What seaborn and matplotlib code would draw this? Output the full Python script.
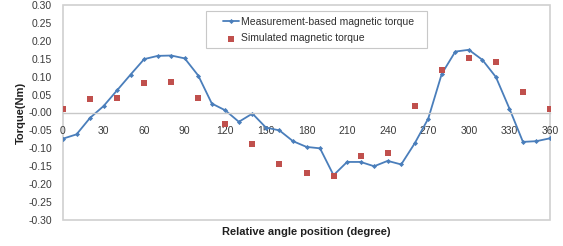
import numpy as np
import pandas as pd
import seaborn as sns
import matplotlib.pyplot as plt
from matplotlib.patches import Rectangle

# measured torque, every 10 degrees
meas_angle = list(range(0, 361, 10))
meas_torque = [-0.073, -0.061, -0.015, 0.018, 0.062, 0.106, 0.149, 0.158, 0.159, 0.151,
               0.103, 0.025, 0.006, -0.026, -0.003, -0.042, -0.050, -0.080, -0.096, -0.100,
               -0.175, -0.138, -0.138, -0.150, -0.135, -0.145, -0.086, -0.017, 0.108, 0.170,
               0.175, 0.147, 0.099, 0.011, -0.082, -0.080, -0.072]

# simulated torque, every 20 degrees
sim_angle = list(range(0, 361, 20))
sim_torque = [0.010, 0.037, 0.041, 0.082, 0.084, 0.040, -0.033, -0.087, -0.145, -0.169,
              -0.178, -0.120, -0.114, 0.018, 0.119, 0.153, 0.141, 0.057, 0.009]

x_ticks = list(range(0, 361, 30))
y_ticks = np.round(np.arange(-0.30, 0.301, 0.05), 2)

df_meas = pd.DataFrame({'angle': meas_angle, 'torque': meas_torque})
df_sim = pd.DataFrame({'angle': sim_angle, 'torque': sim_torque})

sns.set_style("white")
plt.rcParams['font.family'] = ['Liberation Sans', 'DejaVu Sans']

W, H = 563, 246
fig = plt.figure(figsize=(W / 100, H / 100), dpi=100)
ax = fig.add_axes([63 / W, 1 - 220 / H, (550 - 63) / W, (220 - 5) / H])

sns.lineplot(x='angle', y='torque', data=df_meas, ax=ax, color='#4a7ebb', linewidth=1.3,
             marker='D', markersize=2.6, markeredgewidth=0, label='Measurement-based magnetic torque')
sns.scatterplot(x='angle', y='torque', data=df_sim, ax=ax, color='#c0504d', marker='s',
                s=22, linewidth=0, label='Simulated magnetic torque', zorder=3)

ax.set_xlim(0, 360)
ax.set_ylim(-0.30, 0.30)
ax.set_xticks(x_ticks)
ax.set_yticks(y_ticks)
ax.set_yticklabels([f"{v:.2f}" for v in y_ticks])

# x axis crosses at zero, full gray frame around the plot area
for s in ['top', 'right', 'left']:
    ax.spines[s].set_visible(False)
ax.spines['bottom'].set_position(('data', 0))
ax.spines['bottom'].set_color('#c8c8c8')
ax.spines['bottom'].set_linewidth(1.0)
ax.add_patch(Rectangle((0, 0), 1, 1, transform=ax.transAxes, fill=False,
                       edgecolor='#d0d0d0', linewidth=1.2, clip_on=False, zorder=0))

ax.tick_params(axis='x', length=0, pad=10, labelsize=7.5, labelcolor='#3a3a3a')
ax.tick_params(axis='y', length=0, pad=8, labelsize=7.5, labelcolor='#3a3a3a')

ax.set_xlabel("Relative angle position (degree)", fontsize=8, fontweight='bold', color='#202020')
ax.xaxis.set_label_coords(0.5, -0.031)
ax.set_ylabel("Torque(Nm)", fontsize=8, fontweight='bold', color='#202020')
ax.yaxis.set_label_coords(-0.076, 0.5)

# legend without its own frame; the wider Excel-style box is drawn separately
leg = ax.legend(loc='upper left', bbox_to_anchor=((223 - 63) / 487, 1 - 12 / 215),
                borderaxespad=0, fontsize=7.5, frameon=False, handlelength=1.55,
                handletextpad=0.15, borderpad=0, labelspacing=0.6)
for t in leg.get_texts():
    t.set_color('#303030')
fig.add_artist(Rectangle((206 / W, 1 - 48 / H), (427 - 206) / W, 37 / H,
                         transform=fig.transFigure, fill=False, edgecolor='#c8c8c8',
                         linewidth=0.8, zorder=1))

fig.savefig('out.png', dpi=100)
